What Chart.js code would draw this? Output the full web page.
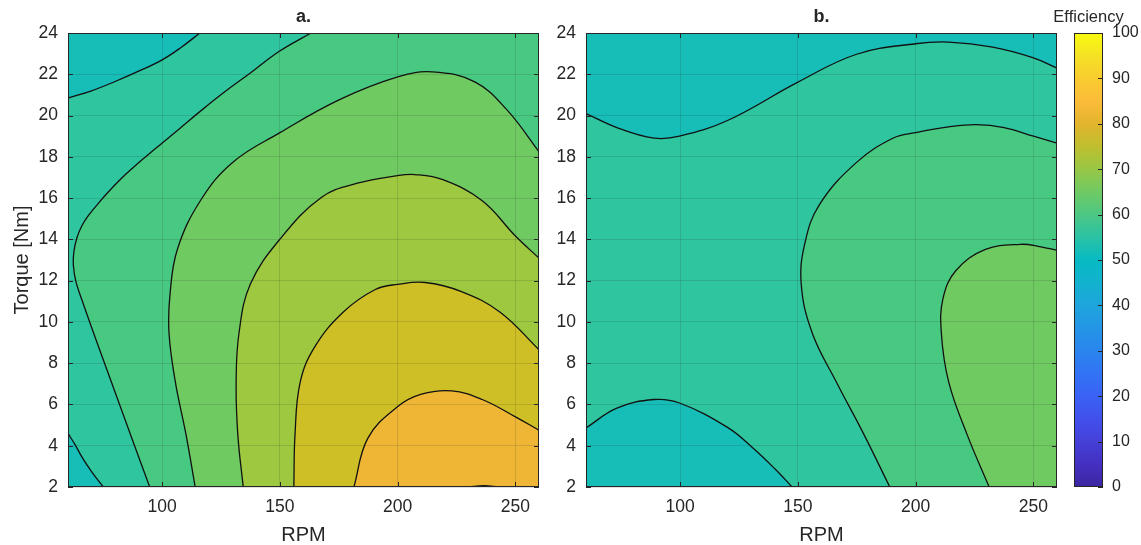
<!DOCTYPE html>
<html>
<head>
<meta charset="utf-8">
<script src="https://cdn.jsdelivr.net/npm/chart.js@4.4.1/dist/chart.umd.min.js"></script>
<style>
  html, body { margin: 0; padding: 0; background: #fff; }
  #wrap { position: relative; width: 1141px; height: 545px; overflow: hidden; }
  canvas { position: absolute; top: 0; }
</style>
</head>
<body>
<div id="wrap">
  <canvas id="panelA" width="560" height="545" style="left:0px"></canvas>
  <canvas id="panelB" width="524" height="545" style="left:540px"></canvas>
  <canvas id="cbar" width="101" height="545" style="left:1040px"></canvas>
</div>
<script>
/* two filled contour panels (efficiency vs RPM / torque) + parula colour bar */

const FONT = "'Liberation Sans', Arial, Helvetica, sans-serif";
const INK = '#262626';

// ── axes ───────────────────────────────────────────────────────────────────────
const xRange = [60, 260];
const yRange = [2, 24];
const xTicks = [100, 150, 200, 250];
const yTicks = [2, 4, 6, 8, 10, 12, 14, 16, 18, 20, 22, 24];
const cbarRange = [0, 100];
const cbarTicks = [0, 10, 20, 30, 40, 50, 60, 70, 80, 90, 100];

// fill colour of each band, keyed by its lower level
const LEVEL_COLORS = {
  50: '#17bdb7',
  55: '#2fc59f',
  60: '#48c982',
  65: '#6fcb61',
  70: '#9dc840',
  75: '#cfbf27',
  80: '#eeb634',
  85: '#fabe3a',
};

// parula
const cbarStops = [
  [0.00, '#3d26a0'], [0.05, '#4330c0'], [0.10, '#4540d8'], [0.15, '#4250ec'],
  [0.20, '#3a62f4'], [0.25, '#3173f4'], [0.30, '#2b85ee'], [0.35, '#2495e6'],
  [0.40, '#1ea5dc'], [0.45, '#12b2cf'], [0.50, '#07bac2'], [0.55, '#2bc2a5'],
  [0.60, '#4cc784'], [0.65, '#6fca64'], [0.70, '#98c745'], [0.75, '#c0bf2f'],
  [0.80, '#e2b42c'], [0.85, '#fcbc3a'], [0.90, '#f9cc2f'], [0.95, '#f5e224'],
  [1.00, '#f9fb0e'],
];

// ── contour lines, panel a (RPM, Nm) ───────────────────────────────────────────
const a55top = [[60,20.85],[70,21.2],[80,21.65],[90,22.15],[100,22.7],[108,23.3],[116,24]];
const a55bot = [[60,4.6],[63,4.05],[66.2,3.4],[70,2.75],[75,2]];
const a60 = [[94.7,2],[89.7,3.55],[84.6,5.15],[79.5,6.75],[74.4,8.35],[69.8,9.8],[65.9,11.07],
  [63.4,11.94],[62.3,12.72],[62.5,13.4],[63.8,14.08],[65.9,14.66],[68.9,15.19],[72.7,15.72],
  [77,16.28],[82.1,16.89],[87.6,17.47],[93.5,18.05],[99.9,18.66],[107.6,19.39],[116,20.19],
  [126.7,21.16],[137.3,22.05],[149.6,23.1],[163.2,24]];
const a65 = [[114,2],[110.1,4.55],[105.6,7.08],[102.9,9.45],[103.3,11.31],[106.4,13.5],
  [116.2,15.87],[129.9,17.73],[150,19.17],[175.3,20.77],[200,21.87],[214.7,22.12],
  [232.9,21.62],[246.5,20.26],[260,18.24]];
const a70 = [[134.4,2],[132.1,4.55],[131.4,7.08],[132.6,9.45],[137.4,11.82],[150,14.01],
  [167.7,16.04],[182.9,16.72],[200,17.09],[207.3,17.14],[219.2,16.89],[235.9,15.87],
  [250,14.16],[260,13.09]];
const a75 = [[155.9,2],[156.4,4.55],[158.6,7.08],[164.7,8.78],[176.8,10.47],[190.5,11.57],
  [200,11.82],[211.7,11.91],[226.8,11.48],[243.5,10.47],[260,8.65]];
const a80 = [[181.4,2],[187.4,4.38],[200,5.9],[210.1,6.5],[223,6.66],[235.9,6.24],[250,5.4],
  [260,4.75]];
const a85 = [[230,2],[236.5,2.06],[243,2]];

// ── contour lines, panel b ─────────────────────────────────────────────────────
const b55top = [[60,20.1],[73.1,19.42],[88.8,18.91],[99.7,19],[120.1,19.76],[150,21.62],
  [174.9,22.97],[199.9,23.48],[214,23.56],[232.7,23.32],[250,22.8],[260,22.3]];
const b55bot = [[60,4.86],[73.1,5.82],[88.8,6.24],[99.7,6.07],[120.1,4.89],[131,3.88],
  [140.4,2.86],[147.5,2]];
const b60 = [[189,2],[178,4.55],[166.3,7.09],[156.1,9.45],[151.4,11.82],[153,13.84],[159.2,15.7],
  [174.9,17.73],[190.5,18.91],[199.9,19.17],[214,19.45],[225.7,19.56],[237.5,19.42],[250,19],
  [260,18.66]];
const b65 = [[231.2,2],[221.8,4.55],[214,7.09],[210.9,9.45],[211.6,11.14],[217.1,12.49],
  [229.6,13.51],[244.5,13.76],[253.1,13.64],[260,13.47]];

// ── helpers ────────────────────────────────────────────────────────────────────
const TL = [[xRange[0], yRange[1]]];
const TR = [[xRange[1], yRange[1]]];
const BR = [[xRange[1], yRange[0]]];
const BL = [[xRange[0], yRange[0]]];
const rev = a => a.slice().reverse();

// closed outline from several pieces; the ends of each piece are doubled so the
// spline stays straight along the plot edges and sharp at the corners
function region(parts) {
  const pts = [];
  parts.forEach(p => { pts.push(p[0], ...p, p[p.length - 1]); });
  pts.push(pts[0], pts[0]);
  return pts.map(([x, y]) => ({ x, y }));
}

const toXY = a => a.map(([x, y]) => ({ x, y }));

// inward ticks + box, like a MATLAB axes
const boxPlugin = {
  id: 'box',
  afterDraw(chart, args, opts) {
    const { ctx, chartArea: a } = chart;
    ctx.save();
    ctx.strokeStyle = INK;
    ctx.lineWidth = 1;
    const L = 5;
    ctx.beginPath();
    (opts.xTicks || []).forEach(v => {
      const px = Math.round(chart.scales.x.getPixelForValue(v)) + 0.5;
      ctx.moveTo(px, a.bottom); ctx.lineTo(px, a.bottom - L);
      ctx.moveTo(px, a.top); ctx.lineTo(px, a.top + L);
    });
    (opts.yTicks || []).forEach(v => {
      const py = Math.round(chart.scales.y.getPixelForValue(v)) + 0.5;
      if (opts.leftTicks !== false) { ctx.moveTo(a.left, py); ctx.lineTo(a.left + L, py); }
      ctx.moveTo(a.right, py); ctx.lineTo(a.right - L, py);
    });
    ctx.stroke();
    ctx.strokeRect(a.left + 0.5, a.top + 0.5, a.right - a.left - 1, a.bottom - a.top - 1);
    if (opts.title) {
      ctx.fillStyle = INK;
      ctx.font = opts.titleFont;
      ctx.textAlign = 'center';
      ctx.textBaseline = 'middle';
      ctx.fillText(opts.title, (a.left + a.right) / 2, opts.titleY);
    }
    ctx.restore();
  },
};

function renderPanel(id, title, yTitle, yWidth, padRight, regions, lines) {
  const datasets = [];
  regions.forEach(([lvl, pts], i) => datasets.push({
    data: pts,
    backgroundColor: LEVEL_COLORS[lvl],
    borderColor: 'rgba(0,0,0,0)',
    borderWidth: 0,
    fill: 'shape',
    tension: 0.4,
    pointRadius: 0,
    order: 100 - i,
  }));
  lines.forEach(l => datasets.push({
    data: toXY(l),
    borderColor: '#111',
    borderWidth: 1.3,
    fill: false,
    tension: 0.4,
    pointRadius: 0,
    order: 0,
  }));

  return new Chart(document.getElementById(id), {
    type: 'line',
    data: { datasets },
    plugins: [boxPlugin],
    options: {
      responsive: false,
      animation: false,
      events: [],
      layout: { padding: { top: 33, right: padRight, left: 0, bottom: 0 } },
      plugins: {
        legend: { display: false },
        tooltip: { enabled: false },
        box: { xTicks, yTicks, title, titleY: 17, titleFont: 'bold 18px ' + FONT },
      },
      scales: {
        x: {
          type: 'linear', min: xRange[0], max: xRange[1],
          afterBuildTicks: s => { s.ticks = xTicks.map(v => ({ value: v })); },
          afterFit: s => { s.height = 58; },
          grid: { color: 'rgba(38,38,38,0.15)', drawTicks: false, z: 1 },
          border: { display: false },
          ticks: { font: { family: FONT, size: 17.5 }, color: INK, padding: 10, maxRotation: 0 },
          title: { display: true, text: 'RPM', color: INK, font: { family: FONT, size: 20, lineHeight: 1 },
                   padding: { top: 0, bottom: 0 } },
        },
        y: {
          type: 'linear', min: yRange[0], max: yRange[1],
          afterBuildTicks: s => { s.ticks = yTicks.map(v => ({ value: v })); },
          afterFit: s => { s.width = yWidth; },
          grid: { color: 'rgba(38,38,38,0.15)', drawTicks: false, z: 1 },
          border: { display: false },
          ticks: { font: { family: FONT, size: 17.5 }, color: INK, padding: 10 },
          title: { display: !!yTitle, text: yTitle, color: INK, font: { family: FONT, size: 20, lineHeight: 1.2 },
                   padding: { top: 10, bottom: 0 } },
        },
      },
    },
  });
}

function renderColorbar() {
  new Chart(document.getElementById('cbar'), {
    type: 'bar',
    data: {
      labels: [''],
      datasets: [{
        data: [cbarRange],
        borderWidth: 0,
        categoryPercentage: 1,
        barPercentage: 1,
        backgroundColor: c => {
          const { chart } = c;
          if (!chart.chartArea) return '#07bac2';
          const y = chart.scales.y;
          const g = chart.ctx.createLinearGradient(0, y.getPixelForValue(cbarRange[0]), 0, y.getPixelForValue(cbarRange[1]));
          cbarStops.forEach(([t, col]) => g.addColorStop(t, col));
          return g;
        },
      }],
    },
    plugins: [boxPlugin],
    options: {
      responsive: false,
      animation: false,
      events: [],
      layout: { padding: { top: 33, right: 0, left: 34, bottom: 58 } },
      plugins: {
        legend: { display: false },
        tooltip: { enabled: false },
        box: { yTicks: cbarTicks, leftTicks: false, title: 'Efficiency', titleY: 17, titleFont: '16.5px ' + FONT },
      },
      scales: {
        x: { display: false },
        y: {
          position: 'right', min: cbarRange[0], max: cbarRange[1],
          afterBuildTicks: s => { s.ticks = cbarTicks.map(v => ({ value: v })); },
          afterFit: s => { s.width = 38; },
          grid: { display: false, drawTicks: false },
          border: { display: false },
          ticks: { font: { family: FONT, size: 16 }, color: INK, padding: 9 },
        },
      },
    },
  });
}

// ── build ──────────────────────────────────────────────────────────────────────
renderPanel('panelA', 'a.', 'Torque [Nm]', 68, 21, [
  [50, region([BL, TL, TR, BR])],
  [55, region([a55top, TR, BR, rev(a55bot)])],
  [60, region([a60, TR, BR])],
  [65, region([a65, BR])],
  [70, region([a70, BR])],
  [75, region([a75, BR])],
  [80, region([a80, BR])],
  [85, region([a85])],
], [a55top, a55bot, a60, a65, a70, a75, a80, a85]);

renderPanel('panelB', 'b.', '', 46, 7, [
  [50, region([BL, TL, TR, BR])],
  [55, region([b55top, BR, rev(b55bot)])],
  [60, region([b60, BR])],
  [65, region([b65, BR])],
], [b55top, b55bot, b60, b65]);

renderColorbar();
</script>
</body>
</html>
